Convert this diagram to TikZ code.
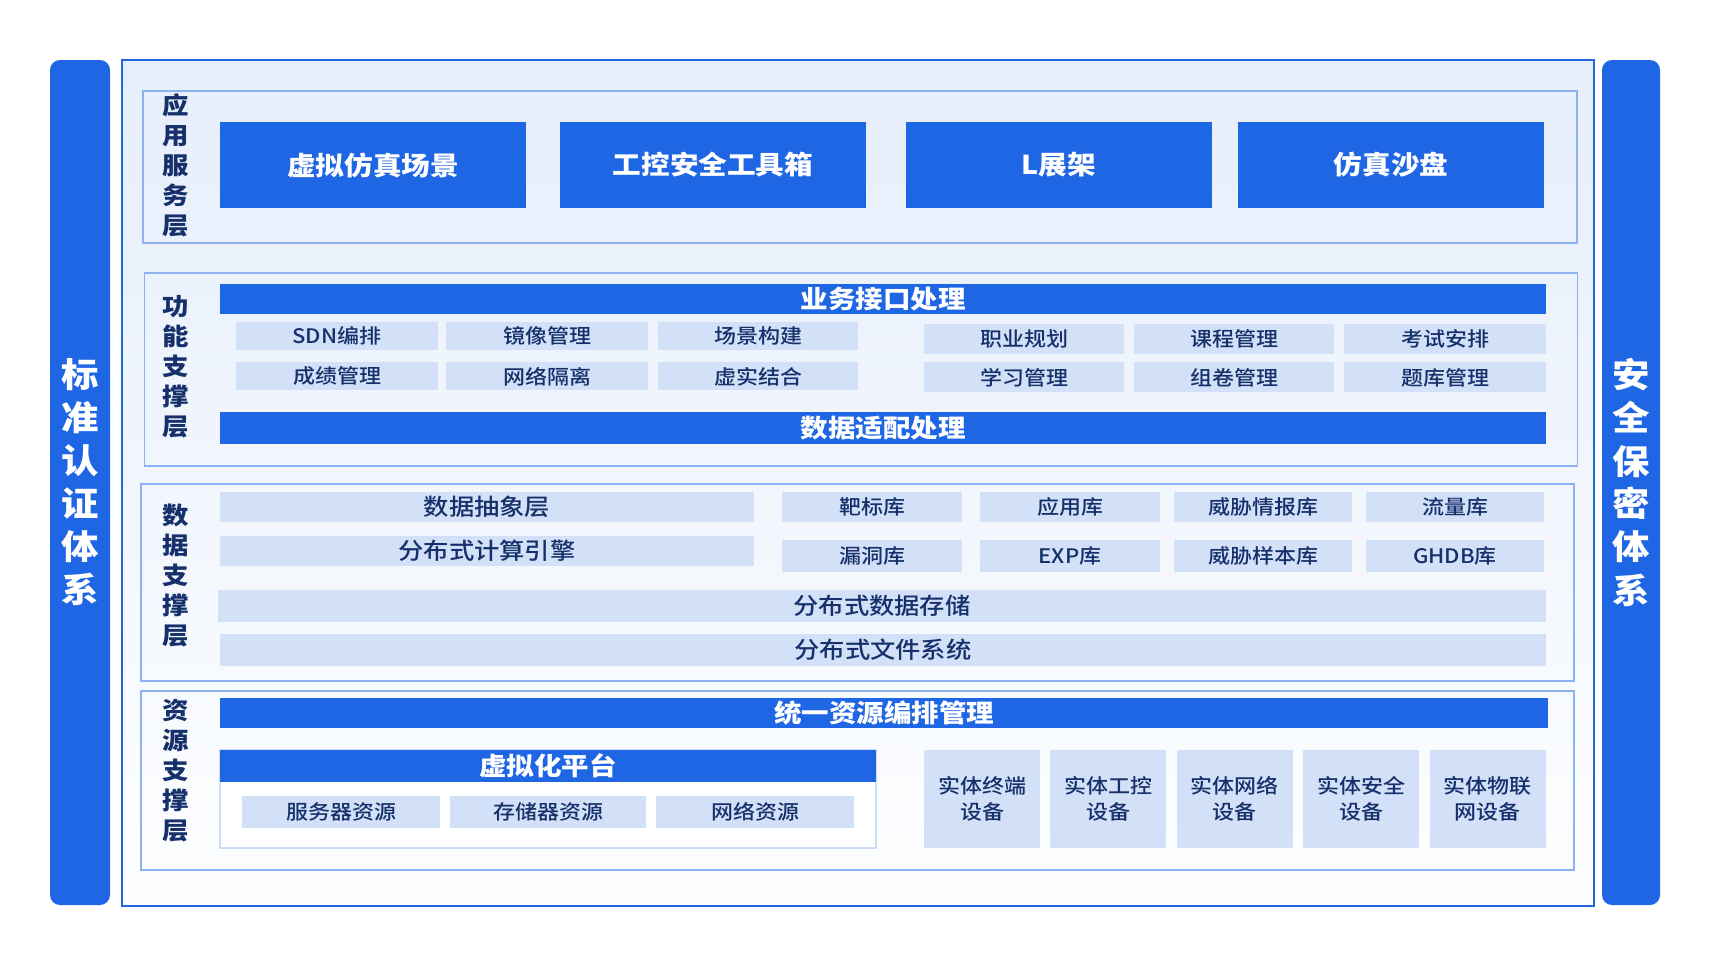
\documentclass[tikz,border=0pt]{standalone}
\usepackage{fontspec}
\setmainfont{Noto Sans CJK SC}[FakeStretch=1.1]
\newfontfamily\medfont{Noto Sans CJK SC Medium}[FakeStretch=1.1]
\usetikzlibrary{positioning}
\definecolor{mainblue}{HTML}{1F66E5}
\definecolor{layerline}{HTML}{8DB2F1}
\definecolor{itemfill}{HTML}{D3E1F8}
\definecolor{navy}{HTML}{15306A}
\definecolor{frametop}{HTML}{E6EEFB}
\definecolor{framebot}{HTML}{FDFEFF}
\definecolor{virtline}{HTML}{CCDCF6}
\tikzset{
 sidebar/.style={fill=mainblue,rounded corners=10pt,inner sep=0pt,text=white,align=center,font=\fontsize{34}{43}\selectfont\bfseries},
 layerbox/.style={draw=layerline,line width=1.5pt,inner sep=0pt},
 layertitle/.style={text=navy,inner sep=0pt,align=center,font=\fontsize{24}{30}\selectfont\bfseries},
 appbox/.style={fill=mainblue,text=white,inner sep=0pt,minimum width=306,minimum height=86,font=\fontsize{26}{30}\selectfont\bfseries},
 headbar/.style={fill=mainblue,text=white,inner sep=0pt,font=\fontsize{25}{30}\selectfont\bfseries},
 item/.style={fill=itemfill,text=navy,inner sep=0pt,align=center,font=\medfont\fontsize{20}{26}\selectfont},
 bigitem/.style={item,font=\medfont\fontsize{23}{28}\selectfont},
}
\begin{document}
\begin{tikzpicture}[x=1pt,y=-1pt]
\useasboundingbox (0,0) rectangle (1718,962);
% outer frame and side bars
\node[draw=mainblue,line width=2pt,top color=frametop,bottom color=framebot,minimum width=1472.5,minimum height=846] (frame) at (857.75,482.5) {};
\node[sidebar,minimum width=60,minimum height=845] (stdbar) at (80,482.5) {标\\准\\认\\证\\体\\系};
\node[sidebar,minimum width=58,minimum height=845] (secbar) at (1631,482.5) {安\\全\\保\\密\\体\\系};
% application layer
\node[layerbox,minimum width=1434,minimum height=152] (applayer) at (860,167) {};
\node[layertitle] (apptitle) at (176,165) {应\\用\\服\\务\\层};
\node[appbox] (sim) at (373,165) {虚拟仿真场景};
\node[appbox] (ics) at (713,165) {工控安全工具箱};
\node[appbox] (lstand) at (1059,165) {L展架};
\node[appbox] (sand) at (1391,165) {仿真沙盘};
% function layer
\node[layerbox,minimum width=1433,minimum height=193] (funlayer) at (861,369.5) {};
\node[layertitle] (funtitle) at (176,367) {功\\能\\支\\撑\\层};
\node[headbar,minimum width=1326,minimum height=30] (bizif) at (883,299) {业务接口处理};
\node[headbar,minimum width=1326,minimum height=32] (adapt) at (883,428) {数据适配处理};
\node[item,minimum width=202,minimum height=28] (sdn) at (337,336) {SDN编排};
\node[item,minimum width=202,minimum height=28] (mirror) at (547,336) {镜像管理};
\node[item,minimum width=200,minimum height=28] (scene) at (758,336) {场景构建};
\node[item,minimum width=202,minimum height=28,below=12pt of sdn] (score) {成绩管理};
\node[item,minimum width=202,minimum height=28,below=12pt of mirror] (isolate) {网络隔离};
\node[item,minimum width=200,minimum height=28,below=12pt of scene] (mixed) {虚实结合};
\node[item,minimum width=200,minimum height=30] (career) at (1024,339) {职业规划};
\node[item,minimum width=200,minimum height=30] (course) at (1234,339) {课程管理};
\node[item,minimum width=202,minimum height=30] (exam) at (1445,339) {考试安排};
\node[item,minimum width=200,minimum height=30,below=8pt of career] (study) {学习管理};
\node[item,minimum width=200,minimum height=30,below=8pt of course] (paper) {组卷管理};
\node[item,minimum width=202,minimum height=30,below=8pt of exam] (bank) {题库管理};
% data layer
\node[layerbox,minimum width=1433,minimum height=197] (datalayer) at (857.5,582.5) {};
\node[layertitle] (datatitle) at (176,575) {数\\据\\支\\撑\\层};
\node[bigitem,minimum width=534,minimum height=30] (abstract) at (487,507) {数据抽象层};
\node[bigitem,minimum width=534,minimum height=30] (compute) at (487,551) {分布式计算引擎};
\node[item,minimum width=180,minimum height=30] (target) at (872,507) {靶标库};
\node[item,minimum width=180,minimum height=30] (applib) at (1070,507) {应用库};
\node[item,minimum width=178,minimum height=30] (intel) at (1263,507) {威胁情报库};
\node[item,minimum width=178,minimum height=30] (flow) at (1455,507) {流量库};
\node[item,minimum width=180,minimum height=32] (vuln) at (872,556) {漏洞库};
\node[item,minimum width=180,minimum height=32] (exp) at (1070,556) {EXP库};
\node[item,minimum width=178,minimum height=32] (sample) at (1263,556) {威胁样本库};
\node[item,minimum width=178,minimum height=32] (ghdb) at (1455,556) {GHDB库};
\node[bigitem,minimum width=1328,minimum height=32] (store) at (882,606) {分布式数据存储};
\node[bigitem,minimum width=1326,minimum height=32] (files) at (883,650) {分布式文件系统};
% resource layer
\node[layerbox,minimum width=1433,minimum height=179] (reslayer) at (857.5,780.5) {};
\node[layertitle] (restitle) at (176,771) {资\\源\\支\\撑\\层};
\node[headbar,minimum width=1328,minimum height=30] (orch) at (884,713) {统一资源编排管理};
\node[draw=virtline,line width=1.5pt,fill=white,inner sep=0pt,minimum width=656,minimum height=98] (virtbox) at (548,799) {};
\node[headbar,minimum width=656,minimum height=32] (virt) at (548,766) {虚拟化平台};
\node[item,minimum width=198,minimum height=32] (server) at (341,812) {服务器资源};
\node[item,minimum width=196,minimum height=32] (storage) at (548,812) {存储器资源};
\node[item,minimum width=198,minimum height=32] (netres) at (755,812) {网络资源};
\node[item,minimum width=116,minimum height=98] (dev1) at (982,799) {实体终端\\设备};
\node[item,minimum width=116,minimum height=98,right=10pt of dev1] (dev2) {实体工控\\设备};
\node[item,minimum width=116,minimum height=98,right=10pt of dev2] (dev3) {实体网络\\设备};
\node[item,minimum width=116,minimum height=98,right=10pt of dev3] (dev4) {实体安全\\设备};
\node[item,minimum width=116,minimum height=98,right=10pt of dev4] (dev5) {实体物联\\网设备};
\end{tikzpicture}
\end{document}
